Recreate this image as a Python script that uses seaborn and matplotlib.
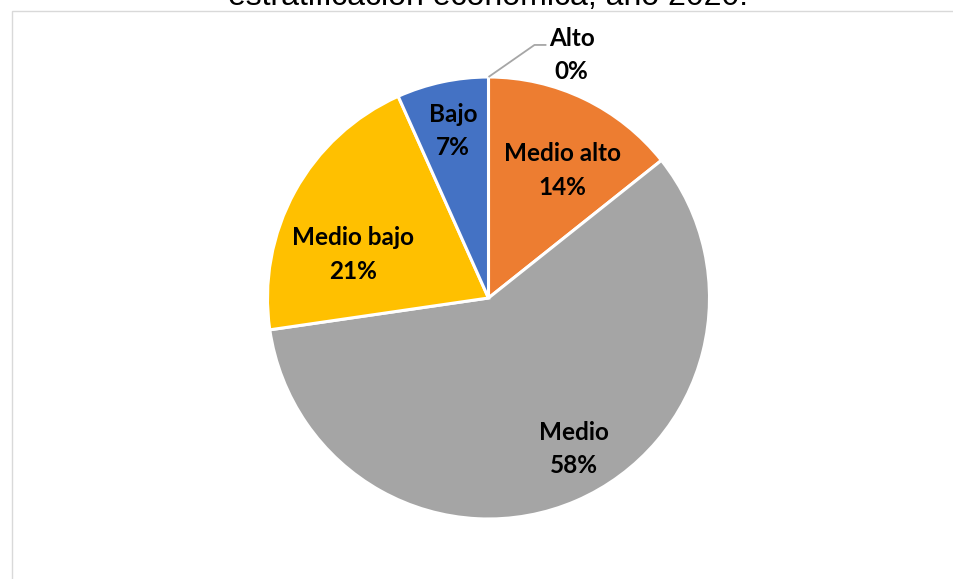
import matplotlib
matplotlib.use("Agg")
import matplotlib.pyplot as plt
import matplotlib.patches as mpatches
import seaborn as sns
import numpy as np

sns.set_theme(style="white")
plt.rcParams['font.family'] = ['Lato', 'DejaVu Sans']

# Datos
categorias = ['Alto', 'Medio alto', 'Medio', 'Medio bajo', 'Bajo']
porcentajes = [0.0, 14.3, 58.4, 20.6, 6.7]
colores = ['#5B9BD5', '#ED7D31', '#A5A5A5', '#FFC000', '#4472C4']
titulo = 'estratificación económica, año 2020.'

fig = plt.figure(figsize=(9.54, 5.79), dpi=100)
ax = fig.add_axes([0, 0, 1, 1])

wedges, _ = ax.pie(porcentajes, colors=colores, startangle=90, counterclock=False,
                   radius=1, wedgeprops=dict(edgecolor='white', linewidth=2.2))

# pie centre / radius in pixels
R_px = 221
cx, cy = 488.5, 298
ax.set_xlim(-cx / R_px, (954 - cx) / R_px)
ax.set_ylim(-(579 - cy) / R_px, cy / R_px)
ax.set_aspect('auto')
ax.axis('off')

# labels inside the wedges (radius fraction, clockwise shift in degrees)
label_r = [None, 0.667, 0.785, 0.643, 0.773]
label_shift = [0, 4.3, -6, -11, 0]
for w, cat, val, r, s in zip(wedges, categorias, porcentajes, label_r, label_shift):
    if r is None:
        continue
    ang = np.deg2rad((w.theta1 + w.theta2) / 2 - s)
    ax.text(r * np.cos(ang), r * np.sin(ang), f'{cat}\n{val:.0f}%', ha='center', va='center',
            fontsize=17.5, fontweight='bold', color='black', linespacing=1.55)

# Alto: label outside with leader line
w0 = wedges[0]
a0 = np.deg2rad((w0.theta1 + w0.theta2) / 2)
x0, y0 = np.cos(a0), np.sin(a0)
ax.plot([x0, 0.208, 0.262], [y0, 1.145, 1.145], color='#A6A6A6', lw=1.3, solid_capstyle='butt')
ax.text(0.376, 1.10, f'{categorias[0]}\n{porcentajes[0]:.0f}%', ha='center', va='center',
        fontsize=17.5, fontweight='bold', color='black', linespacing=1.55)

# chart area border (cut by the image edges)
fig.patches.append(mpatches.Rectangle((12 / 954, -0.1), 2, 1 - 11 / 579 + 0.1,
                                      transform=fig.transFigure, fill=False,
                                      edgecolor='#D9D9D9', lw=1))

# title, mostly outside the image
fig.text(488.5 / 954, 1 - 5 / 579, titulo, ha='center', va='baseline', fontsize=23,
         family=['Liberation Sans', 'DejaVu Sans'], color='black')

plt.savefig('out.png', dpi=100)
plt.close()
